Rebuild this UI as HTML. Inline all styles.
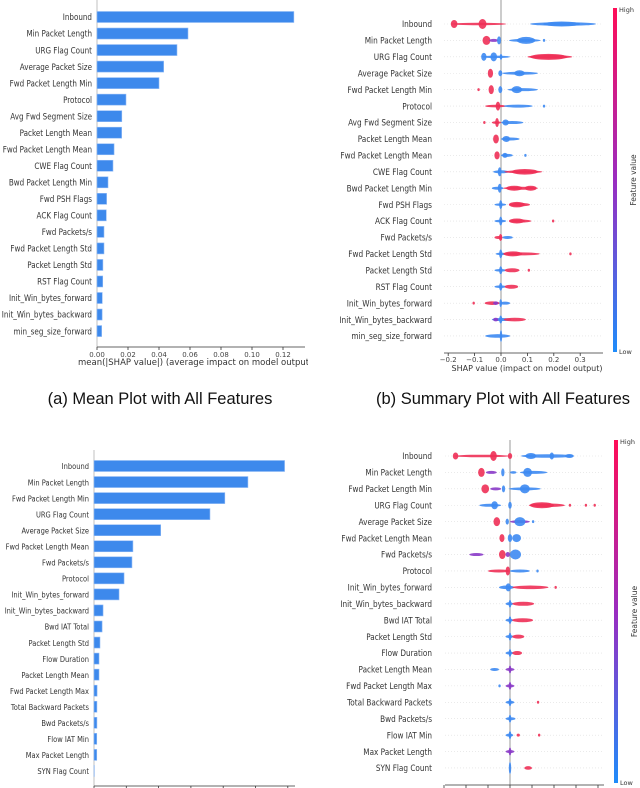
<!DOCTYPE html>
<html><head><meta charset="utf-8"><style>
html,body{margin:0;padding:0;background:#fff;}
svg{display:block;font-family:"DejaVu Sans","Liberation Sans",sans-serif;}
.cap{font-family:"Liberation Sans",sans-serif;font-size:16.5px;fill:#111;}
</style></head><body>
<svg id="fig" width="640" height="788" viewBox="0 0 640 788" xmlns="http://www.w3.org/2000/svg">
<defs><linearGradient id="cb" x1="0" y1="0" x2="0" y2="1">
<stop offset="0" stop-color="#ff0d57"/><stop offset="0.5" stop-color="#9a2cc0"/><stop offset="1" stop-color="#1f8cfa"/></linearGradient>
<clipPath id="clipA"><rect x="0" y="0" width="308" height="380"/></clipPath></defs>
<text class="cap" x="160" y="404" text-anchor="middle">(a) Mean Plot with All Features</text>
<text class="cap" x="503" y="404" text-anchor="middle">(b) Summary Plot with All Features</text>
</svg>
<script>
const featA=["Inbound","Min Packet Length","URG Flag Count","Average Packet Size","Fwd Packet Length Min","Protocol","Avg Fwd Segment Size","Packet Length Mean","Fwd Packet Length Mean","CWE Flag Count","Bwd Packet Length Min","Fwd PSH Flags","ACK Flag Count","Fwd Packets/s","Fwd Packet Length Std","Packet Length Std","RST Flag Count","Init_Win_bytes_forward","Init_Win_bytes_backward","min_seg_size_forward"];
const valA=[0.127,0.0587,0.0516,0.043,0.040,0.0187,0.016,0.0159,0.011,0.0103,0.0071,0.0062,0.006,0.0045,0.0045,0.0038,0.0037,0.0034,0.0033,0.003];
const ticksA=[0,0.02,0.04,0.06,0.08,0.10,0.12];
const tickLabA=["0.00","0.02","0.04","0.06","0.08","0.10","0.12"];
const featC=["Inbound","Min Packet Length","Fwd Packet Length Min","URG Flag Count","Average Packet Size","Fwd Packet Length Mean","Fwd Packets/s","Protocol","Init_Win_bytes_forward","Init_Win_bytes_backward","Bwd IAT Total","Packet Length Std","Flow Duration","Packet Length Mean","Fwd Packet Length Max","Total Backward Packets","Bwd Packets/s","Flow IAT Min","Max Packet Length","SYN Flag Count"];
const valC=[0.118,0.0953,0.081,0.0718,0.0413,0.0241,0.0235,0.0186,0.0155,0.0056,0.005,0.0037,0.0031,0.0031,0.0019,0.0018,0.0018,0.0017,0.0017,0.0002];
const ticksC=[0,0.02,0.04,0.06,0.08,0.10,0.12];
const ticksB=[-0.2,-0.1,0,0.1,0.2,0.3];
const tickLabB=["\u22120.2","\u22120.1","0.0","0.1","0.2","0.3"];
const ticksD=[-0.3,-0.2,-0.1,0,0.1,0.2,0.3,0.4];
const swarmB=[
[[-0.19,0.02,1.2,'r'],[-0.19,-0.165,4,'r'],[-0.085,-0.055,5,'r'],[0.11,0.36,1.8,'b'],[0.16,0.30,2.5,'b']],
[[-0.07,-0.04,4.5,'r'],[-0.045,-0.01,1.5,'p'],[-0.015,0,4,'b'],[0.03,0.15,1.5,'b'],[0.06,0.13,3.5,'b'],[0.16,0.166,1.5,'b']],
[[-0.075,0.035,1.2,'b'],[-0.075,-0.055,4,'b'],[-0.04,-0.015,4.5,'b'],[-0.005,0.005,3,'b'],[0.10,0.27,1.8,'r'],[0.11,0.25,3,'r']],
[[-0.05,-0.03,4.5,'r'],[-0.01,0.005,3,'b'],[0.005,0.14,1.5,'b'],[0.05,0.09,3,'b']],
[[-0.088,-0.082,1.5,'r'],[-0.047,-0.027,4.5,'r'],[-0.01,0.005,3.5,'b'],[0.025,0.14,1.5,'b'],[0.04,0.08,3.5,'b']],
[[-0.06,0.02,1.3,'r'],[-0.02,-0.003,4.5,'r'],[0.01,0.12,1.5,'b'],[0.16,0.166,1.5,'b']],
[[-0.066,-0.06,1.5,'r'],[-0.035,0,1.3,'r'],[-0.022,-0.008,4.5,'r'],[0,0.085,1.5,'b'],[0.005,0.03,3,'b']],
[[-0.03,-0.008,4.5,'r'],[0,0.07,1.5,'b'],[0.005,0.035,3,'b']],
[[-0.025,-0.005,4,'r'],[0,0.045,1.5,'b'],[0.005,0.025,2.5,'b'],[0.09,0.095,1.5,'b']],
[[-0.03,0.03,1.5,'b'],[-0.012,0.002,4.5,'b'],[0.012,0.157,1.5,'r'],[0.04,0.14,2.8,'r']],
[[-0.035,0.01,1.5,'b'],[-0.012,0.002,4.5,'b'],[0.008,0.14,1.5,'r'],[0.02,0.08,2.5,'r'],[0.09,0.135,2.5,'r']],
[[-0.025,0.02,1.3,'b'],[-0.007,0.005,4.5,'b'],[0.03,0.11,1.8,'r'],[0.03,0.09,2.8,'r']],
[[-0.025,0.02,1.3,'b'],[-0.007,0.005,4.5,'b'],[0.03,0.115,1.5,'r'],[0.03,0.09,2.5,'r'],[0.195,0.2,1.5,'r']],
[[-0.025,0.005,1.5,'r'],[-0.008,0.005,3.5,'r'],[0.005,0.045,1.5,'b']],
[[-0.02,0.02,1.3,'b'],[-0.007,0.005,4.5,'b'],[0.007,0.147,1.5,'r'],[0.01,0.08,2.5,'r'],[0.26,0.266,1.5,'r']],
[[-0.025,0.02,1.3,'b'],[-0.007,0.005,4,'b'],[0.014,0.07,2,'r'],[0.103,0.108,1.5,'r']],
[[-0.025,0.02,1.3,'b'],[-0.007,0.005,4,'b'],[0.014,0.065,2,'r']],
[[-0.107,-0.1,1.5,'r'],[-0.062,-0.005,1.8,'r'],[-0.03,-0.01,1.8,'p'],[-0.005,0.035,1.5,'b'],[-0.006,0.004,4,'b']],
[[-0.035,0.04,1.5,'b'],[-0.007,0.005,4,'b'],[0.01,0.094,1.8,'r'],[-0.03,-0.01,1.8,'p']],
[[-0.06,0.035,1.8,'b'],[-0.003,0.003,6,'b']]
];
const swarmD=[
[[-0.255,-0.003,1.3,'r'],[-0.26,-0.235,3.5,'r'],[-0.09,-0.06,5,'r'],[-0.01,0.01,3,'r'],[0.05,0.29,1.8,'b'],[0.07,0.12,3,'b'],[0.18,0.2,3.5,'b'],[0.25,0.29,2,'b']],
[[-0.145,-0.115,4.5,'r'],[-0.11,-0.06,1.5,'p'],[-0.04,-0.025,4,'b'],[0,0.03,1.3,'b'],[0.045,0.17,1.5,'b'],[0.06,0.1,4.5,'b']],
[[-0.13,-0.095,4.5,'r'],[-0.09,-0.04,1.5,'p'],[-0.037,-0.022,3.5,'b'],[-0.005,0.14,1.5,'b'],[0.045,0.09,4.5,'b']],
[[-0.14,-0.04,1.5,'b'],[-0.085,-0.055,4,'b'],[-0.008,0.008,3.5,'b'],[0.085,0.25,1.8,'r'],[0.09,0.2,3,'r'],[0.27,0.275,1.5,'r'],[0.34,0.35,1.5,'r'],[0.38,0.39,1.5,'r']],
[[-0.075,-0.045,4.5,'r'],[-0.02,-0.005,3,'b'],[0,0.09,1.5,'p'],[0.02,0.07,4.5,'b'],[0.1,0.11,1.5,'b']],
[[-0.048,-0.025,4,'r'],[-0.01,0.01,4,'b'],[0.01,0.05,4,'b']],
[[-0.185,-0.12,1.5,'p'],[-0.05,-0.02,4.5,'r'],[-0.02,0,2.5,'p'],[0,0.05,5,'b']],
[[-0.1,0,1.5,'r'],[-0.02,0,4.5,'r'],[0,0.09,1.5,'b'],[0.12,0.13,1.5,'b']],
[[-0.05,0.02,1.8,'b'],[-0.02,0.005,4,'b'],[0.01,0.175,1.8,'r'],[0.205,0.21,1.5,'r']],
[[-0.02,0.015,1.5,'b'],[-0.006,0.006,4,'b'],[0.01,0.11,2,'r']],
[[-0.02,0.015,1.5,'b'],[-0.006,0.006,4,'b'],[0.01,0.105,2,'r']],
[[-0.02,0.015,1.5,'b'],[-0.006,0.006,4,'b'],[0.01,0.065,2,'r']],
[[-0.02,0.015,1.5,'b'],[-0.006,0.006,4,'b'],[0.01,0.055,2,'r']],
[[-0.09,-0.05,1.5,'b'],[-0.02,0.02,1.5,'p'],[-0.006,0.006,4,'p']],
[[-0.05,-0.045,1.5,'b'],[-0.02,0.02,1.5,'p'],[-0.006,0.006,4,'p']],
[[-0.02,0.02,1.5,'b'],[-0.006,0.006,4,'b'],[0.125,0.13,1.5,'r']],
[[-0.02,0.025,1.5,'b'],[-0.006,0.006,4,'b']],
[[-0.02,0.015,1.5,'b'],[-0.006,0.006,4,'b'],[0.03,0.045,1.5,'r'],[0.13,0.135,1.5,'r']],
[[-0.02,0.02,1.5,'p'],[-0.006,0.006,4,'p']],
[[-0.003,0.003,6,'b'],[0.065,0.1,1.8,'r']]
];
const NS="http://www.w3.org/2000/svg";
const svg=document.getElementById('fig');
const COL={r:'#ee3056',b:'#3d8af2',p:'#8a3ac8'};
function mk(tag,a){const e=document.createElementNS(NS,tag);for(const k in a)e.setAttribute(k,a[k]);svg.appendChild(e);return e;}
function txt(x,y,s,size,anchor,fill){const e=mk('text',{x:x,y:y,'font-size':size,'text-anchor':anchor,fill:fill||'#333'});e.textContent=s;return e;}
function stxt(x,y,s,size,sx){const e=mk('text',{x:0,y:0,'font-size':size,'text-anchor':'end',fill:'#333',transform:'translate('+x+','+y+') scale('+sx+',1)'});e.textContent=s;return e;}

function barPanel(feat,val,ticks,labs,o){
  const xs=v=>o.x0+v*o.k;
  let e=mk('line',{x1:o.x0,y1:o.top,x2:o.x0,y2:o.axisY,stroke:'#ccc','stroke-width':1.2});
  
  
  feat.forEach((f,i)=>{
    const y=o.y0+i*o.dy;
    let t=stxt(o.x0-5,y+3.2,f,o.fs,o.sx);
    
    
    let r=mk('rect',{x:o.x0,y:y-o.bh/2,width:Math.max(0,xs(val[i])-o.x0),height:o.bh,fill:'#3d89ec',stroke:'#8fb9f5','stroke-width':0.6});
    
    
  });
  e=mk('line',{x1:o.x0,y1:o.axisY,x2:o.xEnd,y2:o.axisY,stroke:'#333','stroke-width':0.8});
  
  
  ticks.forEach((v,i)=>{
    let tk=mk('line',{x1:xs(v),y1:o.axisY,x2:xs(v),y2:o.axisY+3,stroke:'#333','stroke-width':0.8});
    
    
    if(labs){let t=txt(xs(v),o.axisY+10,labs[i],7,'middle','#444');
    
    }
  });
}
function swarmPanel(feat,sw,ticks,labs,o){
  const xs=v=>o.x0+v*o.k;
  feat.forEach((f,i)=>{
    const y=o.y0+i*o.dy;
    let g=mk('line',{x1:o.gx1,y1:y,x2:o.gx2,y2:y,stroke:'#ddd','stroke-width':0.6,'stroke-dasharray':'1,2'});
    
    
    let t=stxt(o.lx,y+3.2,f,o.fs,o.sx);
    
    
  });
  let z=mk('line',{x1:xs(0),y1:o.top,x2:xs(0),y2:o.axisY,stroke:'#999','stroke-width':1});
  
  
  sw.forEach((row,i)=>{
    const y=o.y0+i*o.dy;
    row.forEach(c=>{
      const a=xs(c[0]),b=xs(c[1]);
      let el=mk('ellipse',{cx:(a+b)/2,cy:y,rx:Math.max((b-a)/2,1.2),ry:c[2],fill:COL[c[3]],'fill-opacity':0.9});
      
      
    });
  });
  let ax=mk('line',{x1:o.gx1,y1:o.axisY,x2:o.gx2,y2:o.axisY,stroke:'#333','stroke-width':0.8});
  
  
  ticks.forEach((v,i)=>{
    let tk=mk('line',{x1:xs(v),y1:o.axisY,x2:xs(v),y2:o.axisY+3,stroke:'#333','stroke-width':0.8});
    
    
    if(labs){let t=txt(xs(v),o.axisY+9,labs[i],7,'middle','#444');
    
    }
  });
  let cb=mk('rect',{x:o.cbx,y:o.cbTop,width:4,height:o.cbBot-o.cbTop,fill:'url(#cb)'});
  
  
  let h=txt(o.cbx+6,o.cbTop+4,'High',6.5,'start');
  
  
  let l=txt(o.cbx+6,o.cbBot+2,'Low',6.5,'start');
  
  
  let fv=txt(0,0,'Feature value',7.5,'middle');
  fv.setAttribute('transform','translate('+(o.cbx+23)+','+((o.cbTop+o.cbBot)/2)+') rotate(-90)');
  
  
}
barPanel(featA,valA,ticksA,tickLabA,{x0:97,k:1550,y0:17,dy:16.53,bh:11,top:0,axisY:347,xEnd:305,fs:9,sx:0.8});
let t1=txt(78,365,'mean(|SHAP value|) (average impact on model output magnitude)',8.5,'start');
t1.setAttribute('clip-path','url(#clipA)');


swarmPanel(featA,swarmB,ticksB,tickLabB,{x0:501,k:264,y0:24,dy:16.42,lx:432,gx1:444,gx2:603,top:0,axisY:353,fs:9,sx:0.82,cbx:613,cbTop:8,cbBot:352});
let t2=txt(527,371,'SHAP value (impact on model output)',8,'middle');


barPanel(featC,valC,ticksC,null,{x0:94,k:1615,y0:466,dy:16.05,bh:11,top:450,axisY:786,xEnd:295,fs:8,sx:0.84});
swarmPanel(featC,swarmD,ticksD,null,{x0:510,k:220,y0:456,dy:16.42,lx:432,gx1:445,gx2:604,top:440,axisY:785,fs:8.5,sx:0.86,cbx:614,cbTop:440,cbBot:783});
</script>
</body></html>
